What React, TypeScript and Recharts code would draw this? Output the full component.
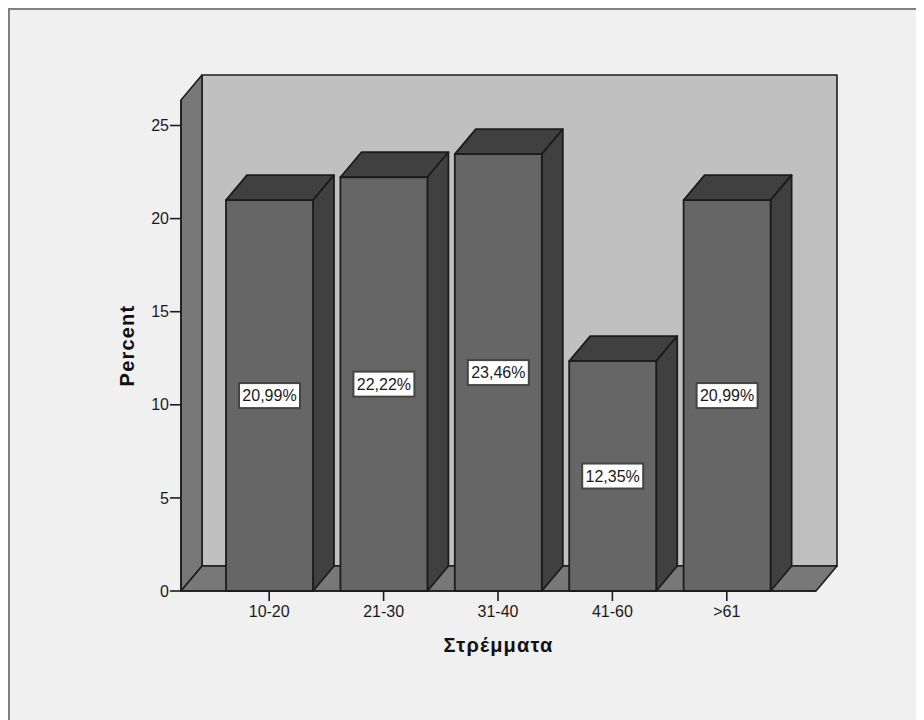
import { Bar, BarChart, LabelList, ReferenceArea, XAxis, YAxis } from "recharts";

const categories = ["10-20", "21-30", "31-40", "41-60", ">61"];
const percents = [20.99, 22.22, 23.46, 12.35, 20.99];
const yTicks = [0, 5, 10, 15, 20, 25];
const yMax = 26.37;

const data = categories.map((name, i) => ({ name, percent: percents[i] }));

// 3D look: how far the back of the box is shifted from the front
const DX = 21;
const DY = 25;
const PAD_LEFT = 31;
const PAD_RIGHT = 32;
const LINE = "#1c1c1c";
const FONT = "'Liberation Sans', Arial, sans-serif";

function Walls({ x, y, width, height }: any) {
  // the reference area only spans the padded band range, so widen it again
  const l = x - PAD_LEFT;
  const r = x + width + PAD_RIGHT;
  const b = y + height;
  return (
    <g stroke={LINE} strokeWidth={1.6} strokeLinejoin="round">
      <rect x={l + DX} y={y - DY} width={r - l} height={height} fill="#c0c0c0" />
      <polygon
        points={`${l},${y} ${l + DX},${y - DY} ${l + DX},${b - DY} ${l},${b}`}
        fill="#787878"
      />
      <polygon
        points={`${l},${b} ${l + DX},${b - DY} ${r + DX},${b - DY} ${r},${b}`}
        fill="#787878"
      />
    </g>
  );
}

function Box3D({ x, y, width, height }: any) {
  const r = x + width;
  const b = y + height;
  return (
    <g stroke={LINE} strokeWidth={1.8} strokeLinejoin="round">
      <polygon
        points={`${x},${y} ${x + DX},${y - DY} ${r + DX},${y - DY} ${r},${y}`}
        fill="#404040"
      />
      <polygon
        points={`${r},${y} ${r + DX},${y - DY} ${r + DX},${b - DY} ${r},${b}`}
        fill="#404040"
      />
      <rect x={x} y={y} width={width} height={height} fill="#666666" />
    </g>
  );
}

function ValueLabel({ x, y, width, height, value }: any) {
  const cx = x + width / 2;
  const cy = y + height / 2;
  return (
    <g>
      <rect x={cx - 30.5} y={cy - 12.5} width={61} height={25} fill="#ffffff" stroke="#444444" strokeWidth={2} />
      <text x={cx} y={cy + 5.5} textAnchor="middle" fontSize={16} fontFamily={FONT} fill="#1a1a1a">
        {Number(value).toFixed(2).replace(".", ",")}%
      </text>
    </g>
  );
}

export default function App() {
  return (
    <div
      style={{
        width: 914,
        height: 710,
        background: "#f0f0f0",
        borderTop: "2px solid #808080",
        borderLeft: "2px solid #808080",
      }}
    >
      <BarChart
        width={914}
        height={710}
        data={data}
        margin={{ top: 90, right: 108, bottom: 89, left: 131 }}
        barSize={87}
      >
        <ReferenceArea y1={0} y2={yMax} ifOverflow="visible" shape={<Walls />} />
        <XAxis
          dataKey="name"
          padding={{ left: PAD_LEFT, right: PAD_RIGHT }}
          tick={{ fill: "#1a1a1a", fontSize: 16, fontFamily: FONT }}
          tickSize={10}
          tickMargin={5}
          stroke={LINE}
          strokeWidth={1.6}
          height={40}
          label={{
            value: "Στρέμματα",
            position: "bottom",
            offset: 7,
            fill: "#111111",
            fontSize: 20,
            fontWeight: "bold",
            fontFamily: FONT,
            letterSpacing: 1.2,
          }}
        />
        <YAxis
          width={40}
          domain={[0, yMax]}
          ticks={yTicks}
          interval={0}
          tick={{ fill: "#1a1a1a", fontSize: 16, fontFamily: FONT }}
          tickSize={11}
          tickMargin={1}
          stroke={LINE}
          strokeWidth={1.6}
          label={{
            value: "Percent",
            angle: -90,
            position: "left",
            offset: 14,
            textAnchor: "middle",
            fill: "#111111",
            fontSize: 20,
            fontWeight: "bold",
            fontFamily: FONT,
            letterSpacing: 1.2,
          }}
        />
        <Bar dataKey="percent" shape={<Box3D />} isAnimationActive={false}>
          <LabelList dataKey="percent" content={<ValueLabel />} />
        </Bar>
      </BarChart>
    </div>
  );
}
